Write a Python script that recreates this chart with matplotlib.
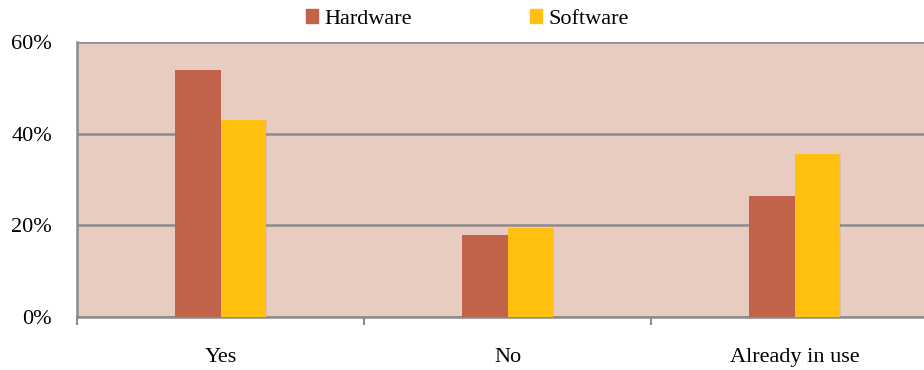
import matplotlib
matplotlib.use("Agg")
import matplotlib.pyplot as plt
from matplotlib.patches import Patch
import numpy as np

categories = ["Yes", "No", "Already in use"]
hardware = [54.0, 18.0, 26.5]
software = [43.0, 19.5, 35.5]
series_names = ["Hardware", "Software"]
y_ticks = [0, 20, 40, 60]
y_tick_labels = ["0%", "20%", "40%", "60%"]

plt.rcParams["font.family"] = ["Liberation Serif", "DejaVu Serif"]
FS = 16

fig = plt.figure(figsize=(9.24, 3.70), dpi=100)
ax = fig.add_axes([77 / 924, 1 - 317 / 370, 861 / 924, 275 / 370])
ax.set_facecolor("#E8CBC1")

x = np.arange(len(categories))
w = 0.157
hw_color = "#C0634A"
sw_color = "#FFC010"

# soft drop shadows behind the bars
for off, a in [(3, 0.06), (2, 0.08), (1, 0.10)]:
    dx = off * 0.0011
    ax.bar(x - w / 2 + dx, hardware, w, color="black", alpha=a, zorder=2, linewidth=0)
    ax.bar(x + w / 2 + dx, software, w, color="black", alpha=a, zorder=2, linewidth=0)

ax.bar(x - w / 2, hardware, w, color=hw_color, zorder=3, linewidth=0)
ax.bar(x + w / 2, software, w, color=sw_color, zorder=3, linewidth=0)

ax.set_xlim(-0.5, len(categories) - 0.5)
ax.set_ylim(0, 60)
ax.set_yticks(y_ticks)
ax.set_yticklabels(y_tick_labels, fontsize=FS)
ax.tick_params(axis="y", length=0, pad=18)

ax.set_xticks(x)
ax.set_xticklabels(categories, fontsize=FS)
ax.tick_params(axis="x", length=0, pad=22)
ax.set_xticks(np.arange(len(categories) + 1) - 0.5, minor=True)
ax.tick_params(axis="x", which="minor", length=6, width=1.5, color="#8C8C8C")

ax.yaxis.grid(True, color="#8C8C8C", linewidth=1.8, zorder=1)
ax.set_axisbelow(True)
for side in ["top", "right"]:
    ax.spines[side].set_visible(False)
for side in ["left", "bottom"]:
    ax.spines[side].set_color("#8C8C8C")
    ax.spines[side].set_linewidth(1.8)

handles = [Patch(color=hw_color), Patch(color=sw_color)]
fig.legend(handles, series_names, loc="center", bbox_to_anchor=(0.506, 1 - 19 / 370),
           ncol=2, frameon=False, fontsize=FS, handlelength=0.55, handleheight=0.55,
           handletextpad=0.3, columnspacing=5.3, borderpad=0)

fig.savefig("out.png", dpi=100)
